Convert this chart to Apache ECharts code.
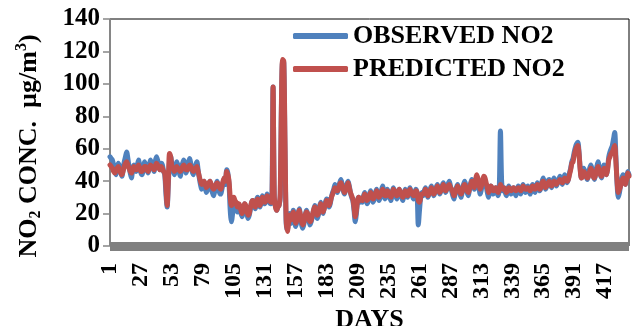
<!DOCTYPE html>
<html>
<head>
<meta charset="utf-8">
<script src="https://cdn.jsdelivr.net/npm/echarts@6/dist/echarts.min.js"></script>
<style>html,body{margin:0;padding:0;background:#fff}#chart{width:633px;height:326px}</style>
</head>
<body>
<div id="chart"></div>
<script>
// Categories: days 1..437
const days = Array.from({length: 437}, (_, i) => String(i + 1));

const seriesNames = ['OBSERVED NO2', 'PREDICTED NO2'];

const observedNO2 = [
  55,54,53,50,47,44,48,51,49,46,
  43,47,52,55,58,54,49,45,42,47,
  50,48,46,50,53,49,45,44,48,52,
  50,47,45,49,53,51,48,46,52,55,
  53,49,47,51,50,46,44,
  32,24,38,52,55,
  50,47,44,48,52,50,46,43,47,51,53,49,45,48,52,54,50,46,44,48,
  50,52,47,42,38,35,37,40,36,33,35,38,
  40,36,33,31,34,38,40,37,33,32,35,39,42,38,
  47,45,38,22,15,20,28,26,
  24,21,25,23,20,18,22,26,24,20,17,19,23,27,28,
  25,23,28,30,26,24,27,31,29,26,28,32,30,27,26,
  28,98,30,25,22,
  24,25,30,85,114,113,60,14,10,16,20,
  14,18,22,17,12,15,20,23,18,13,11,14,19,22,20,16,13,15,
  18,22,25,21,17,19,24,27,23,20,24,27,29,28,24,26,30,33,
  35,38,36,33,36,39,41,38,34,32,35,38,40,37,33,30,28,
  22,15,20,28,30,27,29,
  27,31,33,29,26,28,32,34,30,27,29,33,35,31,28,30,34,37,33,29,31,35,33,30,28,32,36,34,31,29,33,35,32,
  30,28,32,35,33,30,34,36,33,31,29,33,35,32,
  13,22,30,33,
  31,34,36,33,30,32,35,37,34,31,33,36,38,35,32,34,37,39,36,33,35,38,40,37,
  34,31,29,33,36,38,35,32,30,34,38,40,37,33,31,35,39,41,38,35,40,
  42,40,36,32,35,39,41,40,37,33,30,34,37,35,32,34,36,33,31,35,
  71,40,34,
  36,33,31,34,37,35,32,34,36,33,31,35,37,34,32,35,38,36,33,35,37,34,32,36,38,35,33,
  36,39,37,34,36,40,42,38,35,37,40,41,38,36,39,42,40,37,39,41,43,40,38,41,44,42,39,41,45,48,52,
  54,58,61,63,64,58,48,42,44,48,46,
  43,41,44,48,50,47,43,41,45,49,52,48,44,42,46,50,47,44,48,55,
  58,60,62,66,70,55,38,30,33,
  38,42,44,40,38,42,46,44
];

const predictedNO2 = [
  50,49,48,46,45,46,48,49,47,45,
  44,46,49,51,52,50,48,46,45,47,
  49,48,47,48,50,48,46,46,47,49,
  49,47,46,48,50,49,48,47,49,51,
  50,48,47,49,48,46,45,
  36,25,40,57,55,
  49,48,46,47,49,48,47,46,47,49,50,48,47,47,49,50,49,47,46,47,
  48,49,46,43,40,38,39,40,38,36,37,39,
  40,38,36,35,36,38,39,38,36,35,37,40,42,40,
  46,44,40,30,25,26,30,28,
  27,24,26,25,22,20,22,26,25,22,19,20,24,27,28,
  26,24,27,29,27,25,27,30,29,27,28,31,30,28,27,
  27,98,30,24,22,
  24,25,32,88,115,114,65,16,9,14,19,
  16,19,21,18,14,16,20,22,19,15,13,15,19,21,20,17,15,16,
  19,22,24,22,19,20,23,26,24,21,23,26,28,27,25,27,30,32,
  34,36,35,34,35,38,39,37,35,33,35,37,39,36,33,31,29,
  24,18,22,28,30,28,29,
  28,30,32,30,28,29,31,33,31,29,30,32,34,32,30,31,33,35,33,31,31,34,33,31,30,32,35,34,32,31,33,35,33,
  31,30,32,34,33,31,33,35,33,32,31,33,34,33,
  28,27,30,32,
  32,33,35,33,31,32,34,36,34,32,33,35,37,35,33,34,36,38,36,34,35,37,38,36,
  35,33,31,33,35,37,35,33,32,34,37,38,36,34,33,35,38,40,38,36,40,
  44,42,38,35,37,40,43,42,39,36,33,35,37,36,34,35,36,34,33,35,
  38,36,35,
  36,35,33,34,36,35,34,35,36,35,34,35,36,35,34,35,37,36,35,35,36,35,34,36,37,36,35,
  36,38,37,35,36,39,40,38,36,37,39,40,38,37,38,40,39,38,39,40,41,40,39,40,42,41,40,41,44,47,51,
  52,56,59,61,62,57,47,42,43,46,45,
  43,42,43,46,48,46,43,42,44,47,49,47,44,43,45,48,46,44,47,53,
  55,57,58,60,62,52,40,33,35,
  37,40,42,40,38,41,45,43
];

const yTicks = {min: 0, max: 140, interval: 20};
const FONT = "'Liberation Serif', 'Times New Roman', serif";

const chart = echarts.init(document.getElementById('chart'), null, {renderer: 'canvas'});
chart.setOption({
  animation: false,
  backgroundColor: '#ffffff',
  grid: {left: 110, right: 4, top: 19, bottom: 80, outerBoundsMode: 'none', containLabel: false,
         show: true, borderColor: '#000', borderWidth: 1, backgroundColor: 'transparent'},
  legend: {
    orient: 'vertical', left: 293, top: 23, padding: 0, itemWidth: 55, itemHeight: 6, itemGap: 7,
    icon: 'roundRect',
    textStyle: {fontFamily: FONT, fontWeight: 'bold', fontSize: 26, color: '#000', lineHeight: 26},
    data: seriesNames
  },
  xAxis: {
    type: 'category', data: days, boundaryGap: false, offset: 4,
    axisLine: {lineStyle: {color: '#808080', width: 9, cap: 'butt'}},
    axisTick: {show: false},
    axisLabel: {interval: 25, rotate: 90, margin: 13, fontFamily: FONT, fontWeight: 'bold', fontSize: 24, color: '#000'},
    name: 'DAYS', nameLocation: 'middle', nameGap: 50,
    nameTextStyle: {fontFamily: FONT, fontWeight: 'bold', fontSize: 26, color: '#000'},
    splitLine: {show: false}
  },
  yAxis: {
    type: 'value', min: yTicks.min, max: yTicks.max, interval: yTicks.interval,
    axisLine: {show: true, lineStyle: {color: '#868686', width: 2, cap: 'butt'}},
    axisTick: {show: true, length: 7, lineStyle: {color: '#868686', width: 1.5}},
    axisLabel: {margin: 10, fontFamily: FONT, fontWeight: 'bold', fontSize: 25, color: '#000'},
    splitLine: {show: false}
  },
  graphic: [{
    type: 'text', x: 29, y: 146, rotation: Math.PI / 2,
    style: {
      text: '{b|NO}{sub|2}{b| CONC.  µg/m}{sup|3}{b|)}',
      align: 'center', verticalAlign: 'middle', fill: '#000',
      rich: {
        b: {fontFamily: FONT, fontWeight: 'bold', fontSize: 26, lineHeight: 30, fill: '#000'},
        sub: {fontFamily: FONT, fontWeight: 'bold', fontSize: 16, lineHeight: 30, verticalAlign: 'bottom', fill: '#000'},
        sup: {fontFamily: FONT, fontWeight: 'bold', fontSize: 16, lineHeight: 30, verticalAlign: 'top', fill: '#000'}
      }
    }
  }],
  series: [
    {name: seriesNames[0], type: 'line', data: observedNO2, showSymbol: false, symbol: 'none', smooth: 0.3,
     lineStyle: {color: '#4F81BD', width: 5, cap: 'round', join: 'round'}, itemStyle: {color: '#4F81BD'}},
    {name: seriesNames[1], type: 'line', data: predictedNO2, showSymbol: false, symbol: 'none', smooth: 0.3,
     lineStyle: {color: '#C0504D', width: 5, cap: 'round', join: 'round'}, itemStyle: {color: '#C0504D'}}
  ]
});
</script>
</body>
</html>
